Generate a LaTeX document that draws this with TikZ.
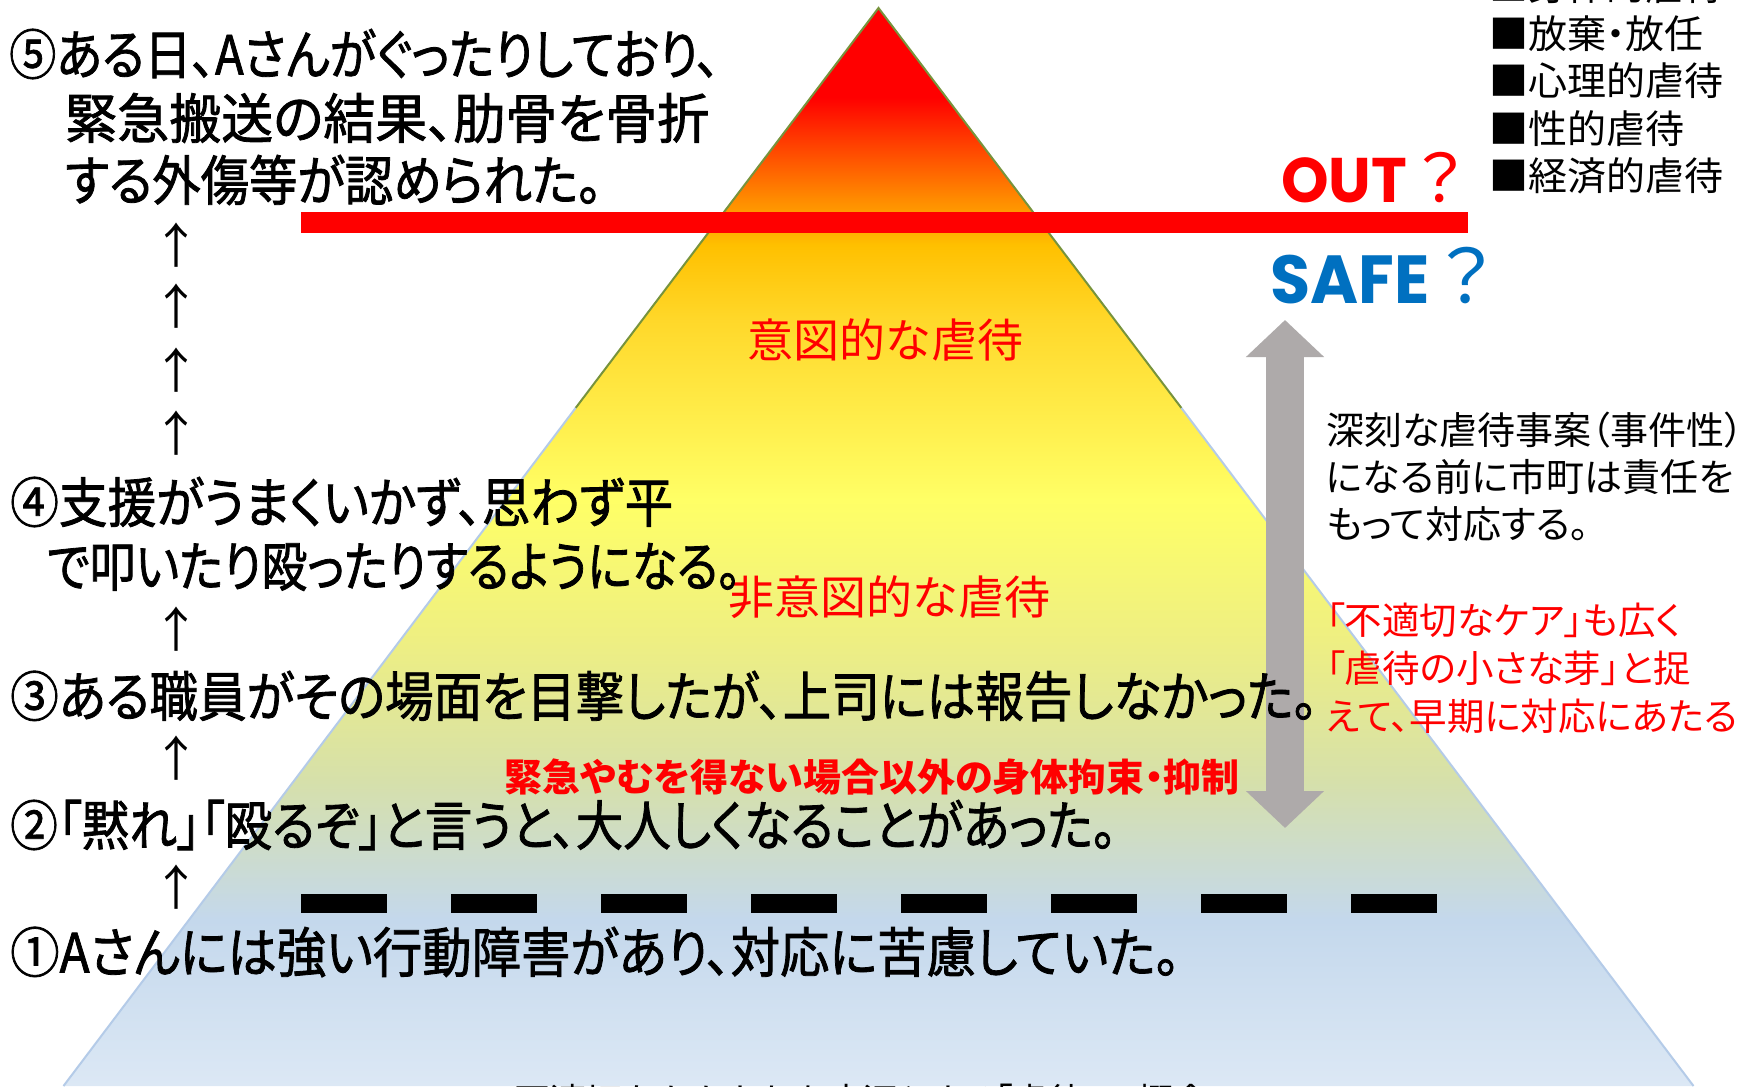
\documentclass[tikz,border=0pt]{standalone}
\usepackage{fontspec}
\usepackage{graphicx}
\usetikzlibrary{arrows.meta}
\newfontfamily\jp{Noto Sans CJK JP}
\newfontfamily\jpp[RawFeature=+palt]{Noto Sans CJK JP}
\newfontfamily\jpm[RawFeature=+palt,FakeBold=1.5]{Noto Sans CJK JP}
\newfontfamily\pop{Poppins}
\definecolor{pb0}{HTML}{DCE8F5}
\definecolor{pb1}{HTML}{C4D8EC}
\definecolor{pg1}{HTML}{D6E0AA}
\definecolor{py1}{HTML}{EEEF82}
\definecolor{py2}{HTML}{FFFF66}
\definecolor{py3}{HTML}{FFD82A}
\definecolor{pgold}{HTML}{FFC000}
\definecolor{por}{HTML}{FF8C00}
\definecolor{por2}{HTML}{FF3A00}
\definecolor{pred}{HTML}{FF0000}
\definecolor{edgegreen}{HTML}{77933C}
\definecolor{edgeblue}{HTML}{B4CBE8}
\definecolor{arrowgray}{HTML}{AEAAAA}
\definecolor{safeblue}{HTML}{0070C0}
\pgfdeclareverticalshading{pyrshade}{100bp}{color(0bp)=(pb0); color(25bp)=(pb0); color(32.7bp)=(pb1); color(39.2bp)=(pg1); color(45.7bp)=(py1); color(52.2bp)=(py2); color(60.5bp)=(py3); color(64bp)=(pgold); color(66.1bp)=(por); color(68.9bp)=(por2); color(70.85bp)=(pred); color(75bp)=(pred); color(100bp)=(pred)}
\newcommand\lsq[2]{\scalebox{#1}[1]{#2}}
\begin{document}
\begin{tikzpicture}[x=1pt,y=-1pt,
  lt/.style={anchor=west,inner sep=0pt,font=\jpm\fontsize{54}{60}\selectfont},
  uparr/.style={inner sep=0pt,font=\jp\fontsize{48}{48}\selectfont},
  redlbl/.style={inner sep=0pt,text=red,font=\jp\fontsize{46}{50}\selectfont},
  rt/.style={anchor=west,inner sep=0pt,font=\jpp\fontsize{38}{44}\selectfont},
  rtr/.style={anchor=west,inner sep=0pt,text=red,font=\jpp\fontsize{37.5}{44}\selectfont},
  leg/.style={anchor=west,inner sep=0pt,font=\jpp\fontsize{39}{44}\selectfont},
  edgeup/.style={draw=edgegreen,line width=2pt},
  edgelow/.style={draw=edgeblue,line width=2pt},
  redbar/.style={draw=red,line width=21pt},
  dashbar/.style={draw=black,line width=19pt,dash pattern=on 85.7pt off 64.3pt},
  grayarrow/.style={draw=arrowgray,line width=38pt,{Triangle[width=76pt,length=37pt]}-{Triangle[width=76pt,length=37pt]}}
]
\clip (0,0) rectangle (1760,1086);
\fill[white] (0,0) rectangle (1760,1086);
% pyramid
\coordinate (apex) at (878.5,8);
\coordinate (bl) at (63.5,1086);
\coordinate (br) at (1693.5,1086);
\coordinate (ml) at (575.6,408);
\coordinate (mr) at (1181.4,408);
\shade[shading=pyrshade] (apex) -- (br) -- (bl) -- cycle;
\draw[edgeup] (ml) -- (apex) -- (mr);
\draw[edgelow] (ml) -- (bl);
\draw[edgelow] (mr) -- (br);
% red bar and dashes
\coordinate (barL) at (301,222);
\coordinate (barR) at (1468,222);
\draw[redbar] (barL) -- (barR);
\coordinate (dashL) at (301,903);
\coordinate (dashR) at (1437,903);
\draw[dashbar] (dashL) -- (dashR);
% gray double arrow
\coordinate (arrTop) at (1285,320);
\coordinate (arrBot) at (1285,828);
\draw[grayarrow] (arrBot) -- (arrTop);
% pyramid labels
\node[redlbl] (intent) at (885,340) {意図的な虐待};
\node[redlbl] (nonintent) at (889,597) {非意図的な虐待};
\node[inner sep=0pt,text=red,font=\jpp\bfseries\fontsize{38}{44}\selectfont] (restraint) at (872,777) {緊急やむを得ない場合以外の身体拘束・抑制};
\node[inner sep=0pt,font=\jpp\fontsize{36}{40}\selectfont] (bottomtxt) at (862,1101) {不適切なかかわりを底辺とする「虐待」の概念};
% left story
\node[lt] (t5a) at (9,54) {\lsq{0.873}{⑤ある日、Aさんがぐったりしており、}};
\node[lt] (t5b) at (65,118) {\lsq{0.963}{緊急搬送の結果、肋骨を骨折}};
\node[lt] (t5c) at (65,180) {\lsq{0.896}{する外傷等が認められた。}};
\node[uparr] (u1) at (176,245) {↑};
\node[uparr] (u2) at (176,306) {↑};
\node[uparr] (u3) at (176,370) {↑};
\node[uparr] (u4) at (176,433) {↑};
\node[lt] (t4a) at (10,502) {\lsq{0.902}{④支援がうまくいかず、思わず平}};
\node[lt] (t4b) at (47,567) {\lsq{0.852}{で叩いたり殴ったりするようになる。}};
\node[uparr] (u5) at (176,629) {↑};
\node[lt] (t3) at (10,696) {\lsq{0.900}{③ある職員がその場面を目撃したが、上司には報告しなかった。}};
\node[uparr] (u6) at (176,758) {↑};
\node[lt] (t2) at (10,825) {\lsq{0.882}{②「黙れ」「殴るぞ」と言うと、大人しくなることがあった。}};
\node[uparr] (u7) at (176,887) {↑};
\node[lt] (t1) at (10,952) {\lsq{0.915}{①Aさんには強い行動障害があり、対応に苦慮していた。}};
% OUT / SAFE
\node[anchor=base west,inner sep=0pt,text=red] (out) at (1281,202) {\scalebox{0.96}[1]{\pop\bfseries\fontsize{63}{63}\selectfont OUT}{\jp\fontsize{66}{66}\selectfont ？}};
\node[anchor=base west,inner sep=0pt,text=safeblue] (safe) at (1270,303) {\scalebox{0.96}[1]{\pop\bfseries\fontsize{68}{68}\selectfont SAFE}{\jp\fontsize{74}{74}\selectfont ？}};
% right texts
\node[rt] (r1) at (1326,430) {深刻な虐待事案（事件性）};
\node[rt] (r2) at (1326,477) {になる前に市町は責任を};
\node[rt] (r3) at (1326,524) {もって対応する。};
\node[rtr] (r4) at (1326,620) {「不適切なケア」も広く};
\node[rtr] (r5) at (1326,668) {「虐待の小さな芽」と捉};
\node[rtr] (r6) at (1326,716) {えて、早期に対応にあたる};
% legend
\node[leg] (g0) at (1489,-14) {■身体的虐待};
\node[leg] (g1) at (1489,34) {■放棄・放任};
\node[leg] (g2) at (1489,81) {■心理的虐待};
\node[leg] (g3) at (1489,129) {■性的虐待};
\node[leg] (g4) at (1489,176) {■経済的虐待};
\end{tikzpicture}
\end{document}
